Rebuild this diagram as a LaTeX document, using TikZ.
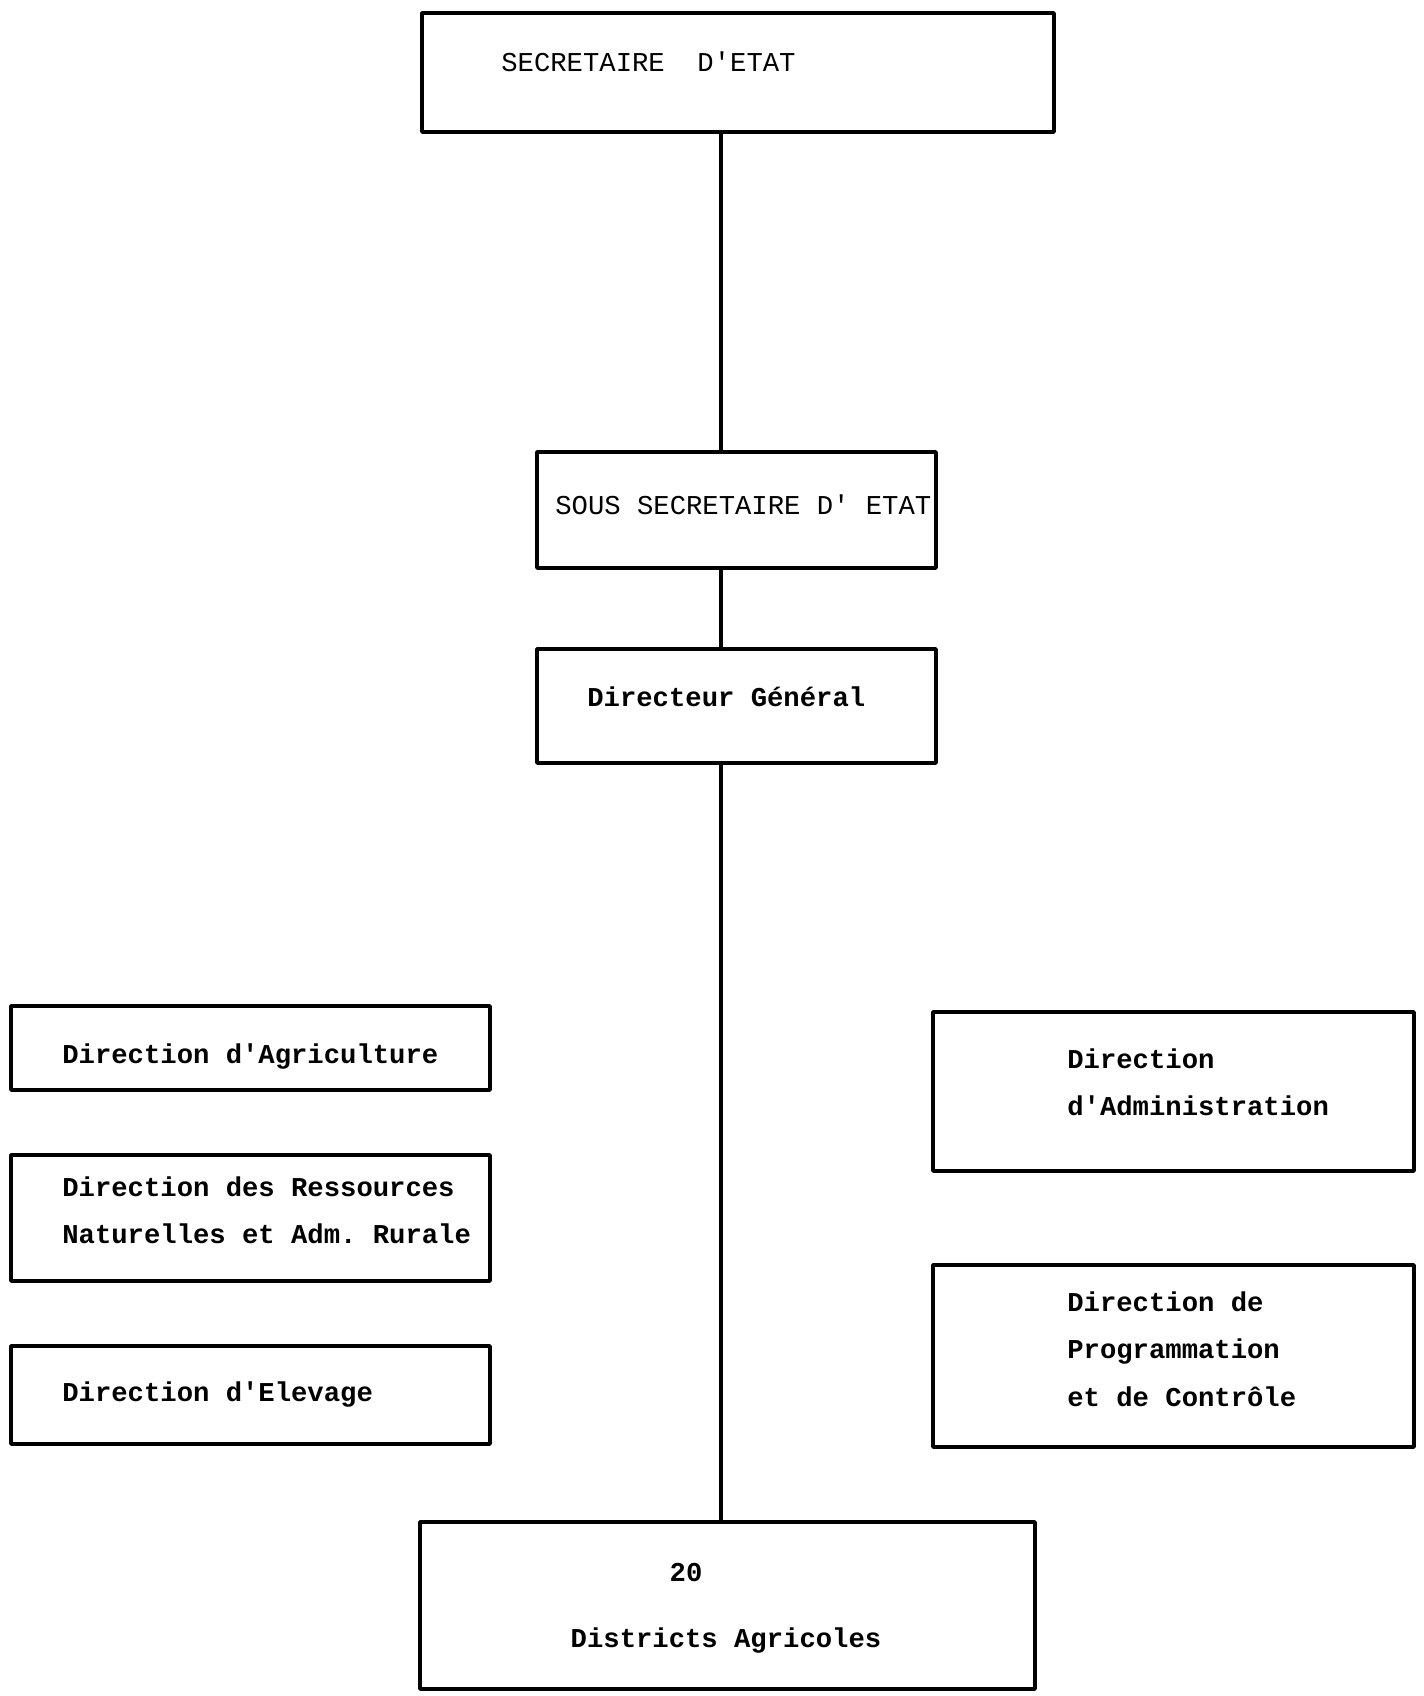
\documentclass[tikz,border=0pt]{standalone}
\usepackage{fontspec}
\setmonofont{Liberation Mono}
\usepackage{tikz}
\tikzset{
  boite/.style={draw,line width=2pt,fill=white,inner sep=0pt},
  texte/.style={font=\ttfamily\fontsize{15.5}{27}\selectfont,inner sep=0pt},
  gras/.style={font=\ttfamily\bfseries\fontsize{15.5}{27}\selectfont,inner sep=0pt},
  trait/.style={line width=2.8pt}
}
\begin{document}
\begin{tikzpicture}[join=round] % Organigramme
  \useasboundingbox (0,0) rectangle (28.46,-33.92);
  \coordinate (axe) at (14.42,0);
  \node[boite,minimum width=12.64cm,minimum height=2.38cm] (se) at (14.76,-1.45) {};
  \node[boite,minimum width=7.98cm,minimum height=2.32cm] (ss) at (14.73,-10.2) {};
  \node[boite,minimum width=7.98cm,minimum height=2.28cm] (dg) at (14.73,-14.12) {};
  \node[boite,minimum width=9.58cm,minimum height=1.68cm] (agr) at (5.01,-20.96) {};
  \node[boite,minimum width=9.58cm,minimum height=2.52cm] (res) at (5.01,-24.36) {};
  \node[boite,minimum width=9.58cm,minimum height=1.96cm] (ele) at (5.01,-27.9) {};
  \node[boite,minimum width=9.62cm,minimum height=3.18cm] (adm) at (23.47,-21.83) {};
  \node[boite,minimum width=9.62cm,minimum height=3.64cm] (pro) at (23.47,-27.12) {};
  \node[boite,minimum width=12.3cm,minimum height=3.34cm] (dis) at (14.55,-32.11) {};
  \draw[trait] (se.south -| axe) -- (ss.north -| axe);
  \draw[trait] (ss.south -| axe) -- (dg.north -| axe);
  \draw[trait] (dg.south -| axe) -- (dis.north -| axe);
  % textes
  \node[texte,anchor=west] (tse) at (10.02,-1.24) {SECRETAIRE\ \ D'ETAT};
  \node[texte,anchor=west] (tss) at (11.1,-10.1) {SOUS SECRETAIRE D' ETAT};
  \node[gras,anchor=west] (tdg) at (11.74,-13.94) {Directeur Général};
  \node[gras,anchor=west] (tagr) at (1.24,-21.12) {Direction d'Agriculture};
  \node[gras,anchor=west,align=left] (tres) at (1.24,-24.2) {Direction des Ressources\\Naturelles et Adm. Rurale};
  \node[gras,anchor=west] (tele) at (1.24,-27.88) {Direction d'Elevage};
  \node[gras,anchor=west,align=left] (tadm) at (21.34,-21.64) {Direction\\d'Administration};
  \node[gras,anchor=west,align=left] (tpro) at (21.34,-26.98) {Direction de\\Programmation\\et de Contrôle};
  \node[gras] (tvingt) at (13.72,-31.46) {20};
  \node[gras] (tdis) at (14.52,-32.8) {Districts Agricoles};
\end{tikzpicture}
\end{document}
